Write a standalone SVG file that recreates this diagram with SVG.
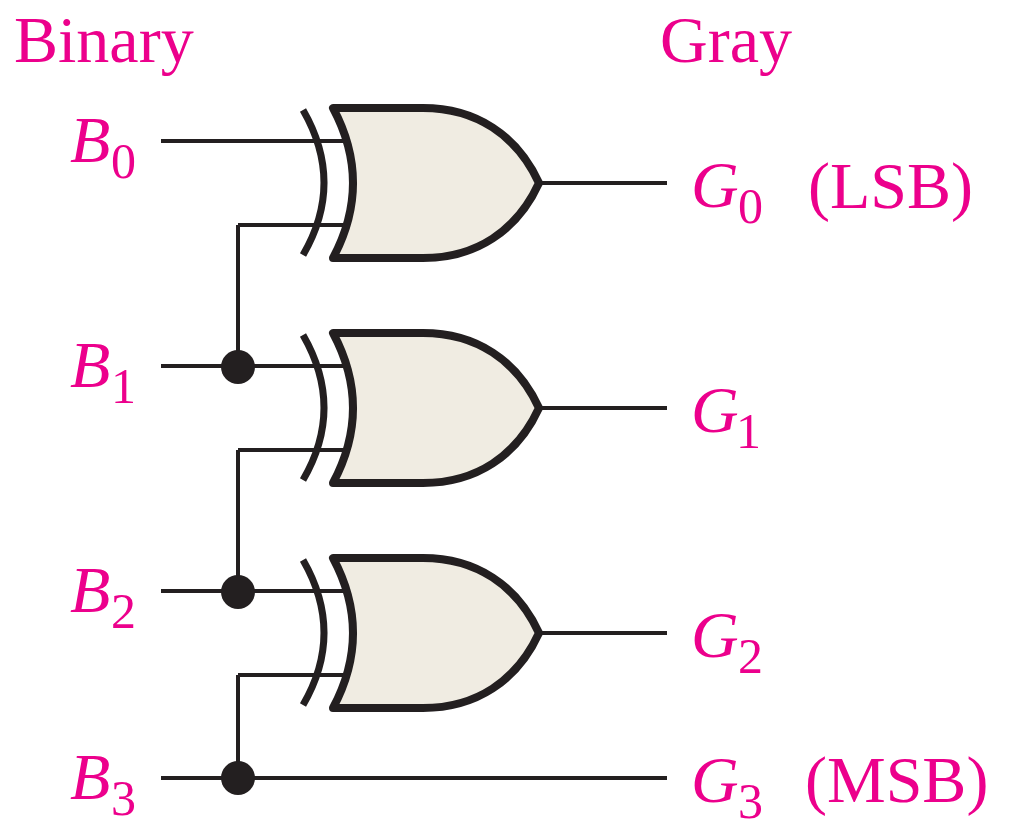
<svg xmlns="http://www.w3.org/2000/svg" width="1012" height="837" viewBox="0 0 1012 837">
<style>
.t{font-family:"Liberation Serif","Times New Roman",serif;fill:#ec008c;font-size:66px}
.i{font-style:italic}
.s{font-size:50px}
.w{fill:none;stroke:#231f20;stroke-width:4}
.b{fill:#f0ece2;stroke:#231f20;stroke-width:8;stroke-linejoin:round}
.a{fill:none;stroke:#231f20;stroke-width:7}
.d{fill:#231f20}
</style>
<defs>
<g id="xor">
<path class="a" d="M303,110 Q345,183 303,255"/>
<path class="b" d="M333,108 H423 C476,108 517,135 539,183 C517,231 476,258 423,258 H333 Q373,183 333,108 Z"/>
</g>
</defs>
<g id="connectors">
<path class="w" d="M161,141 H345 M238,225 H345 M238,225 V367 M161,366 H345 M540,183 H667"/>
<path class="w" d="M238,450 H345 M238,450 V592 M161,591 H345 M540,408 H667"/>
<path class="w" d="M238,675 H345 M238,675 V778 M161,778 H667 M540,633 H667"/>
<circle class="d" cx="238" cy="367" r="17"/>
<circle class="d" cx="238" cy="592" r="17"/>
<circle class="d" cx="238" cy="778" r="17"/>
</g>
<g id="gate0"><use href="#xor"/></g>
<g id="gate1"><use href="#xor" y="225"/></g>
<g id="gate2"><use href="#xor" y="450"/></g>
<g id="labels">
<text class="t" x="14" y="62">Binary</text>
<text class="t" x="660" y="62">Gray</text>
<text class="t i" x="70" y="162">B</text><text class="t s" x="111" y="178">0</text>
<text class="t i" x="70" y="387">B</text><text class="t s" x="111" y="403">1</text>
<text class="t i" x="70" y="612">B</text><text class="t s" x="111" y="628">2</text>
<text class="t i" x="70" y="799">B</text><text class="t s" x="111" y="815">3</text>
<text class="t i" x="691" y="207">G</text><text class="t s" x="738" y="223">0</text>
<text class="t i" x="691" y="432">G</text><text class="t s" x="736" y="448">1</text>
<text class="t i" x="691" y="657">G</text><text class="t s" x="738" y="673">2</text>
<text class="t i" x="691" y="802">G</text><text class="t s" x="738" y="818">3</text>
<text class="t" x="808" y="208">(LSB)</text>
<text class="t" x="805" y="802">(MSB)</text>
</g>
</svg>
